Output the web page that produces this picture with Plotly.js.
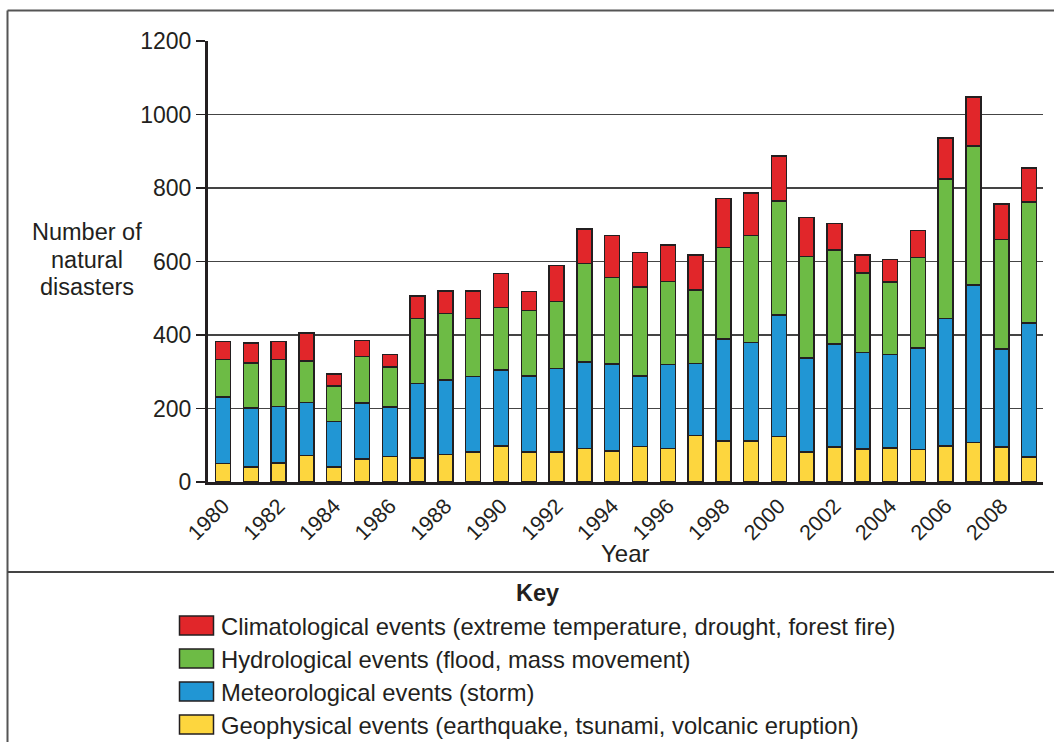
<!DOCTYPE html>
<html>
<head>
<meta charset="utf-8">
<script src="https://cdn.plot.ly/plotly-3.0.1.min.js"></script>
<style>
  html, body { margin: 0; padding: 0; background: #fff; }
  #chart { width: 1054px; height: 742px; }
</style>
</head>
<body>
<div id="chart"></div>
<script>
// ---- Data ----
const years = [1980,1981,1982,1983,1984,1985,1986,1987,1988,1989,
               1990,1991,1992,1993,1994,1995,1996,1997,1998,1999,
               2000,2001,2002,2003,2004,2005,2006,2007,2008,2009];

const geophysical    = [51,41,52,72,41,62,70,65,75,82, 98,82,82,91,84,97,91,126,111,111, 124,82,95,90,93,89,98,108,95,68];
const meteorological = [180,161,154,145,123,153,134,203,202,205, 207,207,227,236,237,192,229,196,278,269, 331,256,280,262,254,275,347,428,267,364];
const hydrological   = [102,122,128,112,97,126,109,177,182,158, 170,178,182,268,236,242,225,200,249,291, 310,276,256,217,197,247,380,378,298,330];
const climatological = [50,54,48,76,33,44,34,61,61,75, 93,52,98,94,114,93,100,96,134,115, 122,106,73,49,61,74,111,134,96,92];

const seriesNames = [
  "Climatological events (extreme temperature, drought, forest fire)",
  "Hydrological events (flood, mass movement)",
  "Meteorological events (storm)",
  "Geophysical events (earthquake, tsunami, volcanic eruption)"
];
const seriesColors = ["#e1262a", "#6dbb45", "#2196d4", "#fdd63e"];

const xTickVals = [1980,1982,1984,1986,1988,1990,1992,1994,1996,1998,2000,2002,2004,2006,2008];
const xTickText = ["1980","1982","1984","1986","1988","1990","1992","1994","1996","1998","2000","2002","2004","2006","2008"];
const yTickVals = [0,200,400,600,800,1000,1200];
const yTickText = ["0","200","400","600","800","1000","1200"];
const yTitleLines = ["Number of", "natural", "disasters"];

// ---- Build chart ----
const FONT = "Liberation Sans, Arial, Helvetica, sans-serif";
const INK = "#231f20";
const stackOrder = [
  {y: geophysical,    idx: 3},
  {y: meteorological, idx: 2},
  {y: hydrological,   idx: 1},
  {y: climatological, idx: 0}
];

const traces = stackOrder.map(s => ({
  type: "bar",
  x: years,
  y: s.y,
  name: seriesNames[s.idx],
  width: 0.54,
  marker: { color: seriesColors[s.idx], line: { color: INK, width: 1.5 } },
  showlegend: false,
  hoverinfo: "x+y+name"
}));

// pixel -> paper helpers (plot area: x 208..1043, y 41..482)
const L = 208, R = 1043, T = 41, B = 482;
const px = v => (v - L) / (R - L);
const py = v => (B - v) / (B - T);

const shapes = [
  {type: "line", xref: "paper", yref: "paper", x0: px(7.5), x1: px(1060), y0: py(10.5), y1: py(10.5), line: {color: "#555", width: 2}},
  {type: "line", xref: "paper", yref: "paper", x0: px(7.5), x1: px(7.5), y0: py(10.5), y1: py(745), line: {color: "#555", width: 2}},
  {type: "line", xref: "paper", yref: "paper", x0: px(7.5), x1: px(1060), y0: py(572), y1: py(572), line: {color: "#444", width: 2}}
];

const annotations = [];
const titleCenters = [232, 259.5, 287];
yTitleLines.forEach((t, i) => annotations.push({
  xref: "paper", yref: "paper", x: px(87), y: py(titleCenters[i]), text: t,
  showarrow: false, xanchor: "center", yanchor: "middle",
  font: {family: FONT, size: 23.5, color: INK}
}));
annotations.push({xref: "paper", yref: "paper", x: px(625.5), y: py(553), text: "Year",
   showarrow: false, xanchor: "center", yanchor: "middle",
   font: {family: FONT, size: 24, color: INK}});
annotations.push({xref: "paper", yref: "paper", x: px(537), y: py(593), text: "<b>Key</b>",
   showarrow: false, xanchor: "center", yanchor: "middle",
   font: {family: FONT, size: 23.5, color: INK}});

const rowCenters = [625.5, 658.5, 691.5, 724.5];
seriesNames.forEach((name, i) => {
  const c = rowCenters[i];
  shapes.push({type: "rect", xref: "paper", yref: "paper",
    x0: px(179.5), x1: px(213.5), y0: py(c - 9.5), y1: py(c + 9.5),
    fillcolor: seriesColors[i], line: {color: INK, width: 1.5}});
  annotations.push({xref: "paper", yref: "paper", x: px(219), y: py(c + 1), text: name,
    showarrow: false, xanchor: "left", yanchor: "middle",
    font: {family: FONT, size: 23.8, color: INK}});
});

const layout = {
  width: 1054, height: 742,
  margin: {l: L, r: 1054 - R, t: T, b: 742 - B, pad: 0},
  paper_bgcolor: "#fff", plot_bgcolor: "#fff",
  barmode: "stack",
  font: {family: FONT, color: INK},
  xaxis: {
    range: [1979.46, 2009.5],
    tickmode: "array", tickvals: xTickVals, ticktext: xTickText,
    tickangle: -45,
    tickfont: {family: FONT, size: 21.5, color: INK},
    ticks: "", showgrid: false, zeroline: false,
    showline: true, linecolor: INK, linewidth: 3,
    fixedrange: true
  },
  yaxis: {
    range: [0, 1200],
    tickmode: "array", tickvals: yTickVals, ticktext: yTickText,
    tickfont: {family: FONT, size: 23, color: INK},
    ticks: "outside", ticklen: 9, tickwidth: 1.5, tickcolor: INK,
    showgrid: true, gridcolor: "#444", gridwidth: 1.2,
    zeroline: false,
    showline: true, linecolor: INK, linewidth: 3,
    fixedrange: true
  },
  shapes: shapes,
  annotations: annotations,
  showlegend: false
};

Plotly.newPlot("chart", traces, layout, {displayModeBar: false, staticPlot: true});
</script>
</body>
</html>
